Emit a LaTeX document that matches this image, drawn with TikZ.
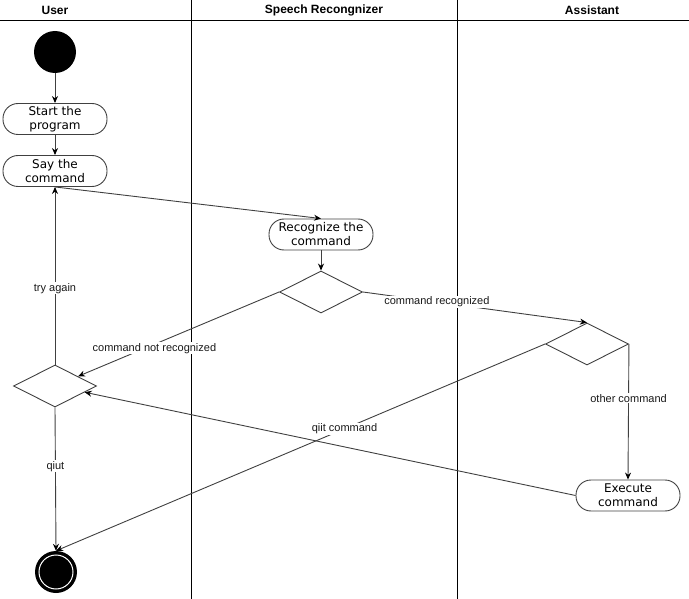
\documentclass[tikz,border=0pt]{standalone}
\usepackage{fontspec}
\setmainfont{Liberation Sans}
\newfontfamily\actfont{DejaVu Sans}
\usetikzlibrary{shapes.geometric,arrows.meta}

\tikzset{
  lane/.style={black, line width=0.9pt},
  act/.style={draw=black!75, line width=0.9pt, rounded corners=15pt, minimum width=104pt, minimum height=31pt, inner sep=0pt, align=center, text=black, font=\actfont\fontsize{12}{14}\selectfont},
  decision/.style={diamond, draw=black!75, line width=0.9pt, minimum width=83pt, minimum height=42pt, inner sep=0pt},
  arr/.style={black!75, line width=0.9pt, -{Stealth[length=7pt,width=6pt,black]}},
  lbl/.style={fill=white, text=black!90, inner sep=1pt, font=\fontsize{11}{13}\selectfont},
}

\begin{document}
\begin{tikzpicture}[x=1pt,y=-1pt]
\useasboundingbox (0,0) rectangle (689,599);
% swimlanes
\draw[lane](0,20)--(689,20);
\draw[lane](191,0)--(191,599);
\draw[lane](457,0)--(457,599);
\node[font=\bfseries\fontsize{12}{14}\selectfont] (huser) at (55,10) {User};
\node[font=\bfseries\fontsize{12}{14}\selectfont] (hspeech) at (324,10) {Speech Recongnizer};
\node[font=\bfseries\fontsize{12}{14}\selectfont] (hassist) at (592,10) {Assistant};

% nodes
\node[circle, fill=black, minimum size=42pt, inner sep=0pt] (start) at (55,52) {};
\node[act] (startprog) at (55,119) {Start the\\program};
\node[act] (say) at (55,171) {Say the\\command};
\node[act] (recog) at (321,234.5) {Recognize the\\command};
\node[decision] (dec1) at (321,292) {};
\node[decision] (dec2) at (587,344) {};
\node[act] (exec) at (628,495.5) {Execute\\command};
\node[decision] (dec3) at (55,386) {};
\node[circle, fill=black, minimum size=42pt, inner sep=0pt] (end) at (56,572) {};
\draw[white, line width=1pt](end.center) circle[radius=17];

% flows
\draw[arr](start)--(startprog);
\draw[arr](startprog)--(say);
\draw[arr](say.south)--(recog.north);
\draw[arr](recog)--(dec1);
\draw[arr](dec1.west)--node[lbl, pos=0.62, yshift=-4pt]{command not recognized}(dec3);
\draw[arr](dec1.east)--node[lbl, pos=0.33]{command recognized}(dec2.north);
\draw[arr](dec2.east)--node[lbl, pos=0.4]{other command}(exec.north);
\draw[arr](dec2.west)--node[lbl, pos=0.41]{qiit command}(end.north);
\draw[arr](exec.west)--(dec3);
\draw[arr](dec3.north)--node[lbl, pos=0.43]{try again}(say.south);
\draw[arr](dec3.south)--node[lbl, pos=0.41]{qiut}(end.north);
\end{tikzpicture}
\end{document}
